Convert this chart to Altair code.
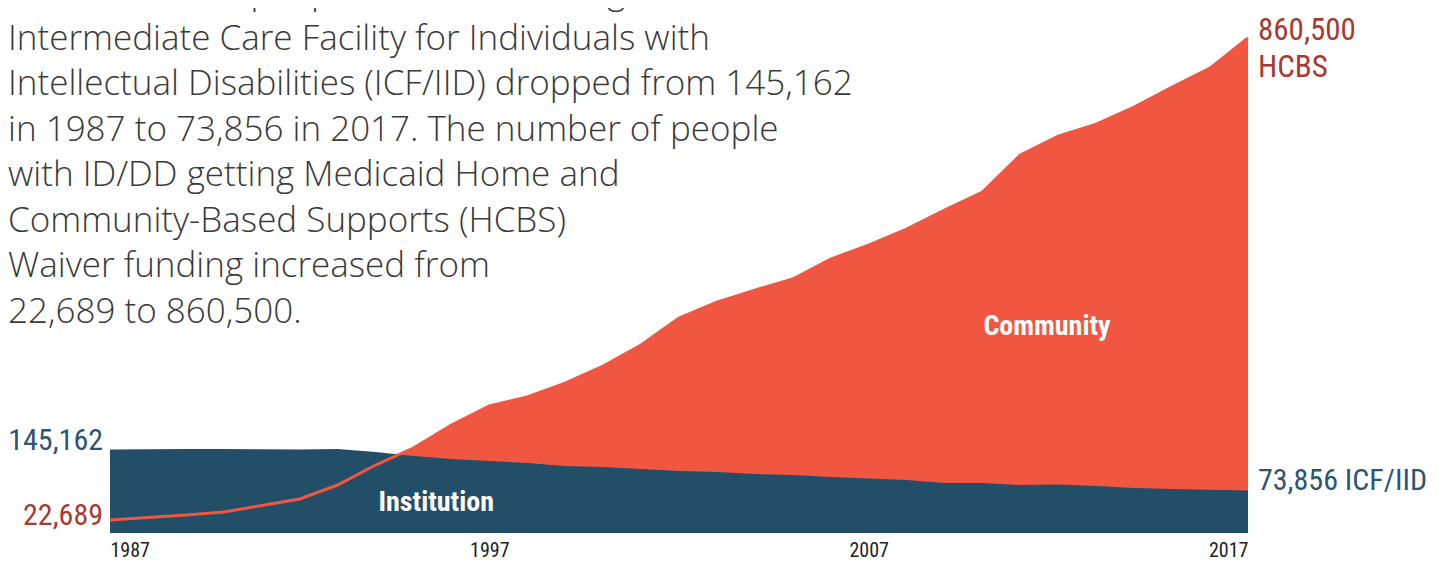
import altair as alt
import pandas as pd

years = list(range(1987, 2018))
hcbs = [22689, 27000, 31500, 36500, 47800, 59100, 83400, 118200, 147700, 187700,
        220700, 236400, 260700, 290200, 326700, 373700, 401500, 422300, 441500, 476200,
        500500, 528400, 561400, 592700, 657000, 690000, 710800, 740400, 775100, 808200,
        860500]
icf = [145162, 145600, 146000, 145900, 145700, 145200, 146000, 140800, 133800, 128600,
       125100, 121700, 116400, 114700, 111200, 107800, 106000, 102500, 100800, 97300,
       94700, 92100, 86900, 86900, 83400, 84300, 81700, 78200, 76500, 75000,
       73856]
tick_years = [1987, 1997, 2007, 2017]

paragraph = [
    "The number of people with ID/DD living in a Medicaid",
    "Intermediate Care Facility for Individuals with",
    "Intellectual Disabilities (ICF/IID) dropped from 145,162",
    "in 1987 to 73,856 in 2017. The number of people",
    "with ID/DD getting Medicaid Home and",
    "Community-Based Supports (HCBS)",
    "Waiver funding increased from",
    "22,689 to 860,500.",
]

RED = "#F15641"
BLUE = "#224E68"
RED_TXT = "#A83A32"
BLUE_TXT = "#2B5571"
COND = "Roboto Condensed, DejaVu Sans Condensed, sans-serif"

df = pd.DataFrame({"year": years, "hcbs": hcbs, "icf": icf})

xenc = alt.X(
    "year:Q",
    scale=alt.Scale(domain=[1987, 2017], nice=False, zero=False),
    axis=alt.Axis(values=tick_years, format="d", title=None, domain=False, ticks=False,
                  grid=False, labelFlush=True, labelFont=COND, labelFontSize=20,
                  labelFontWeight="normal", labelColor="#222222", labelPadding=7),
)
yscale = alt.Scale(domain=[0, 860500], nice=False, zero=True)

base = alt.Chart(df)
red_area = base.mark_area(color=RED, opacity=1).encode(
    x=xenc, y=alt.Y("hcbs:Q", scale=yscale, axis=None))
blue_area = base.mark_area(color=BLUE, opacity=1).encode(
    x=xenc, y=alt.Y("icf:Q", scale=yscale, axis=None))
red_line = base.mark_line(color=RED, strokeWidth=3).encode(
    x=xenc, y=alt.Y("hcbs:Q", scale=yscale, axis=None))

def label(year, value, text, color, size, align, dx, dy, weight="normal", line_height=None):
    d = pd.DataFrame({"year": [year], "hcbs": [value]})
    kw = dict(align=align, baseline="alphabetic", dx=dx, dy=dy, font=COND,
              fontSize=size, color=color, fontWeight=weight, text=text)
    if line_height is not None:
        kw["lineHeight"] = line_height
    return alt.Chart(d).mark_text(**kw).encode(
        x=xenc, y=alt.Y("hcbs:Q", scale=yscale, axis=None))

lab_hcbs = label(2017, 860500, ["860,500", "HCBS"], RED_TXT, 31, "left", 10, 2, line_height=37)
lab_icf = label(2017, 73856, "73,856 ICF/IID", BLUE_TXT, 30, "left", 10, -1)
lab_icf0 = label(1987, 145162, "145,162", BLUE_TXT, 30, "right", -7, 1)
lab_hcbs0 = label(1987, 22689, "22,689", RED_TXT, 30, "right", -7, 5)
lab_inst = label(1995.6, 38200, "Institution", "white", 28, "center", 0, 0, weight="bold")
lab_comm = label(2011.7, 344100, "Community", "white", 28, "center", 0, 0, weight="bold")

para = alt.Chart(pd.DataFrame({"k": [0]})).mark_text(
    text=paragraph, align="left", baseline="alphabetic", font="Open Sans", fontWeight=300,
    fontSize=35, lineHeight=45.5, color="#3a3a3a",
).encode(x=alt.value(-102), y=alt.value(-34))

chart = alt.layer(
    red_area, blue_area, red_line,
    lab_hcbs, lab_icf, lab_icf0, lab_hcbs0, lab_inst, lab_comm, para,
).properties(
    width=1138, height=495,
    autosize=alt.AutoSizeParams(type="none"),
    padding={"left": 102, "top": 30, "right": 182, "bottom": 28},
).configure_view(stroke=None)

chart.save("out.html", embed_options={"renderer": "svg", "actions": False})
